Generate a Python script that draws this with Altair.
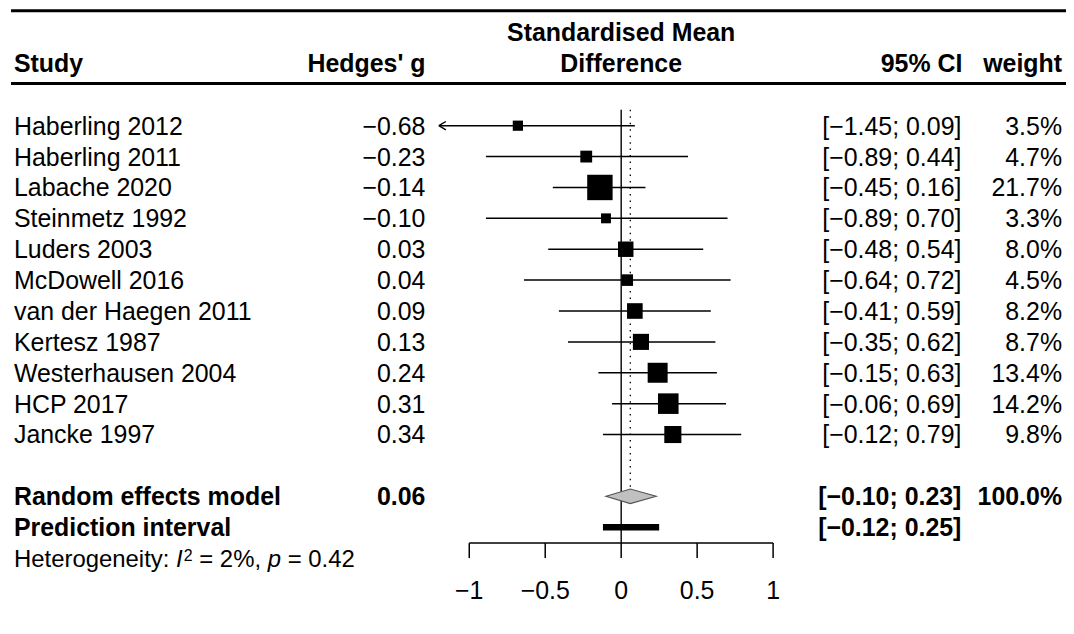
import altair as alt
import pandas as pd

# ---------------- data ----------------
studies = ["Haberling 2012", "Haberling 2011", "Labache 2020", "Steinmetz 1992",
           "Luders 2003", "McDowell 2016", "van der Haegen 2011", "Kertesz 1987",
           "Westerhausen 2004", "HCP 2017", "Jancke 1997"]
hedges_g = [-0.68, -0.23, -0.14, -0.10, 0.03, 0.04, 0.09, 0.13, 0.24, 0.31, 0.34]
ci_lower = [-1.45, -0.89, -0.45, -0.89, -0.48, -0.64, -0.41, -0.35, -0.15, -0.06, -0.12]
ci_upper = [0.09, 0.44, 0.16, 0.70, 0.54, 0.72, 0.59, 0.62, 0.63, 0.69, 0.79]
weights = [3.5, 4.7, 21.7, 3.3, 8.0, 4.5, 8.2, 8.7, 13.4, 14.2, 9.8]

summary_labels = ["Random effects model", "Prediction interval"]
re_estimate = 0.06
re_lower, re_upper = -0.10, 0.23
pi_lower, pi_upper = -0.12, 0.25
re_weight = 100.0
i2_value = 2
p_value = 0.42

axis_ticks = [-1, -0.5, 0, 0.5, 1]
axis_labels = ["\u22121", "\u22120.5", "0", "0.5", "1"]
x_limit_low = -1.2

# ---------------- layout / style ----------------
W, H = 1062, 605
UNIT = 152.5        # px per unit of effect size
ZERO = 615.5        # px position of 0
ROW0, ROWH = 117, 31
FONT = "Liberation Sans"
FS = 25

xs = alt.Scale(domain=[-ZERO / UNIT, (W - ZERO) / UNIT], nice=False, zero=False)
ys = alt.Scale(domain=[-ROW0 / ROWH, (H - ROW0) / ROWH], nice=False, zero=False, reverse=True)


def fmt(v):
    return f"{v:.2f}".replace("-", "\u2212")


def fmt_ci(lo, hi):
    return f"[{fmt(lo)}; {fmt(hi)}]"


n = len(studies)
df = pd.DataFrame({"study": studies, "g": hedges_g, "lo": ci_lower,
                   "hi": ci_upper, "w": weights})
df["row"] = list(range(n))
df["lo_clip"] = df["lo"].clip(lower=x_limit_low)
df["g_txt"] = [fmt(v) for v in hedges_g]
df["ci_txt"] = [fmt_ci(a, b) for a, b in zip(ci_lower, ci_upper)]
df["w_txt"] = [f"{v:.1f}%" for v in weights]

re_row = n + 1
pi_row = n + 2
het_row = n + 3

summ = pd.DataFrame({
    "label": summary_labels,
    "row": [re_row, pi_row],
    "g_txt": [fmt(re_estimate), ""],
    "ci_txt": [fmt_ci(re_lower, re_upper), fmt_ci(pi_lower, pi_upper)],
    "w_txt": [f"{re_weight:.1f}%", ""],
})

X = lambda f: alt.X(f, scale=xs, axis=None)
Y = lambda f: alt.Y(f, scale=ys, axis=None)

# CI lines
ci = alt.Chart(df).mark_rule(color="black", strokeWidth=1.5).encode(
    x=X("lo_clip:Q"), x2="hi:Q", y=Y("row:Q"))

# arrows for truncated CIs
arrows = alt.Chart(df[df["lo"] < x_limit_low]).mark_point(
    shape="M0,0L1,-0.6M0,0L1,0.6", filled=False, color="black",
    strokeWidth=1.4, size=196, opacity=1).encode(x=X("lo_clip:Q"), y=Y("row:Q"))

squares = alt.Chart(df).mark_square(color="black", opacity=1).encode(
    x=X("g:Q"), y=Y("row:Q"),
    size=alt.Size("w:Q", scale=alt.Scale(domain=[0, 100], range=[0, 3000]), legend=None))

# reference lines
zero_line = alt.Chart(pd.DataFrame({"x": [0]})).mark_rule(color="black", strokeWidth=1.4).encode(
    x=X("x:Q"), y=alt.value(101), y2=alt.value(536))
re_line = alt.Chart(pd.DataFrame({"x": [re_estimate]})).mark_rule(
    color="black", strokeWidth=1.3, strokeDash=[1.5, 5]).encode(
    x=X("x:Q"), y=alt.value(101), y2=alt.value(482))

# diamond
hh = 0.235
dia = pd.DataFrame({"x": [re_lower, re_estimate, re_upper],
                    "top": [re_row, re_row - hh, re_row],
                    "bot": [re_row, re_row + hh, re_row]})
diamond = alt.Chart(dia).mark_area(orient="vertical", fill="#c0c0c0", stroke="#555555",
                                   strokeWidth=1.2, opacity=1).encode(
    x=X("x:Q"), y=Y("top:Q"), y2="bot:Q")

# prediction interval
pi_bar = alt.Chart(pd.DataFrame({"lo": [pi_lower], "hi": [pi_upper], "row": [pi_row]})).mark_rule(
    color="black", strokeWidth=6.5, strokeCap="butt").encode(x=X("lo:Q"), x2="hi:Q", y=Y("row:Q"))

# bottom axis
ax_df = pd.DataFrame({"t": axis_ticks, "lab": axis_labels})
ax_line = alt.Chart(pd.DataFrame({"a": [min(axis_ticks)], "b": [max(axis_ticks)]})).mark_rule(
    color="black", strokeWidth=1.5).encode(x=X("a:Q"), x2="b:Q", y=alt.value(536))
ax_ticks = alt.Chart(ax_df).mark_rule(color="black", strokeWidth=1.5).encode(
    x=X("t:Q"), y=alt.value(536), y2=alt.value(551))
ax_labels = alt.Chart(ax_df).mark_text(font=FONT, fontSize=FS, color="black", align="center",
                                       baseline="alphabetic").encode(
    x=X("t:Q"), y=alt.value(592), text="lab:N")


def col_text(data, field, xpx, align, bold=False):
    return alt.Chart(data).mark_text(font=FONT, fontSize=FS, color="black", align=align,
                                     baseline="alphabetic", dy=9,
                                     fontWeight="bold" if bold else "normal").encode(
        x=alt.value(xpx), y=Y("row:Q"), text=f"{field}:N")


t_study = col_text(df, "study", 6, "left")
t_g = col_text(df, "g_txt", 419, "right")
t_ci = col_text(df, "ci_txt", 957, "right")
t_w = col_text(df, "w_txt", 1058, "right")
s_lab = col_text(summ, "label", 6, "left", True)
s_g = col_text(summ, "g_txt", 419, "right", True)
s_ci = col_text(summ, "ci_txt", 957, "right", True)
s_w = col_text(summ, "w_txt", 1058, "right", True)

# headers
hdr = pd.DataFrame({"txt": ["Study", "Hedges' g", "95% CI", "weight"],
                    "xp": [6, 419, 958, 1058], "al": ["left", "right", "right", "right"]})
hdr_layers = []
for _, r in hdr.iterrows():
    hdr_layers.append(alt.Chart(pd.DataFrame({"txt": [r["txt"]]})).mark_text(
        font=FONT, fontSize=FS, fontWeight="bold", color="black", align=r["al"],
        baseline="alphabetic").encode(x=alt.value(r["xp"]), y=alt.value(63), text="txt:N"))
mid_hdr = alt.Chart(pd.DataFrame({"txt": ["Standardised Mean", "Difference"], "x": [0, 0],
                                  "yp": [32, 63]})).mark_text(
    font=FONT, fontSize=FS, fontWeight="bold", color="black", align="center",
    baseline="alphabetic").encode(x=X("x:Q"), y=alt.Y("yp:Q", scale=None, axis=None), text="txt:N")

top_line = alt.Chart(pd.DataFrame({"a": [0]})).mark_rule(color="black", strokeWidth=3).encode(
    x=alt.value(3), x2=alt.value(W), y=alt.value(1.5))
hdr_line = alt.Chart(pd.DataFrame({"a": [0]})).mark_rule(color="black", strokeWidth=3).encode(
    x=alt.value(3), x2=alt.value(W), y=alt.value(74.7))

# heterogeneity (rich text as segments; SVG drops edge spaces, so each piece is placed)
HFS = 24
segs = [
    ("Heterogeneity:", 6, "normal", HFS, 9),
    ("I", 168.7, "italic", HFS, 9),
    (f"{2}", 176.4, "normal", 16, 2.5),
    (f"= {i2_value}%,", 192.0, "normal", HFS, 9),
    ("p", 260.7, "italic", HFS, 9),
    (f"= {p_value:.2f}", 280.7, "normal", HFS, 9),
]
het_layers = []
for txt, xp, style, fs, dy in segs:
    het_layers.append(alt.Chart(pd.DataFrame({"txt": [txt], "row": [het_row]})).mark_text(
        font=FONT, fontSize=fs, fontStyle=style, color="black", align="left",
        baseline="alphabetic", dy=dy).encode(x=alt.value(xp), y=Y("row:Q"), text="txt:N"))

chart = alt.layer(
    top_line, hdr_line, zero_line, re_line, ci, arrows, squares, diamond, pi_bar,
    ax_line, ax_ticks, ax_labels,
    t_study, t_g, t_ci, t_w, s_lab, s_g, s_ci, s_w, mid_hdr, *hdr_layers, *het_layers
).properties(
    width=W, height=H, padding=0, background="white",
    autosize=alt.AutoSizeParams(type="none"),
).configure_view(stroke=None)

chart.save("out.html", embed_options={"renderer": "svg", "actions": False})
